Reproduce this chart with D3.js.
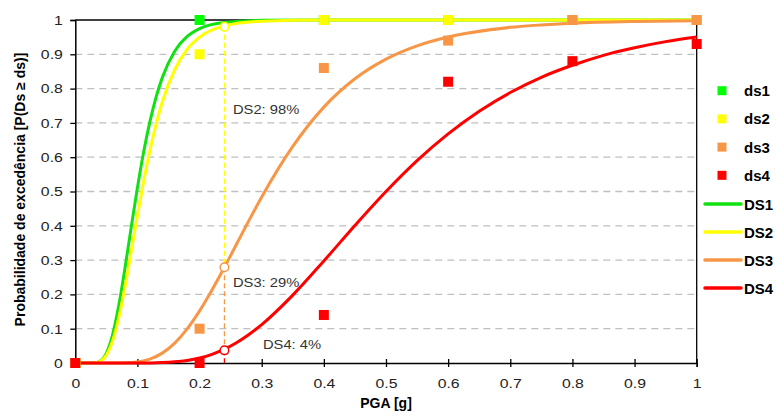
<!DOCTYPE html>
<html><head><meta charset="utf-8">
<script src="https://cdn.jsdelivr.net/npm/d3@7"></script>
<style>body{margin:0;background:#fff}svg{display:block;font-family:"Liberation Sans",Arial,sans-serif}</style>
</head><body><svg id="c" width="777" height="416"></svg>
<script>
// observed points
const pga = [0, 0.2, 0.4, 0.6, 0.8, 1];
const ds1 = [0, 1, 1, 1, 1, 1];
const ds2 = [0, 0.9, 1, 1, 1, 1];
const ds3 = [0, 0.1, 0.86, 0.94, 1, 1];
const ds4 = [0, 0, 0.14, 0.82, 0.88, 0.93];
// fitted curves
const DS1x = [0,0.03,0.04,0.05,0.06,0.07,0.08,0.09,0.10,0.11,0.12,0.13,0.14,0.16,0.18,0.20,0.24,0.30,0.40,0.60,0.80,1.0];
const DS1y = [0,0.0005,0.006,0.029,0.082,0.168,0.277,0.396,0.511,0.615,0.703,0.775,0.832,0.909,0.952,0.975,0.993,0.999,1,1,1,1];
const DS2x = [0,0.03,0.04,0.05,0.06,0.07,0.08,0.09,0.10,0.11,0.12,0.13,0.14,0.16,0.18,0.20,0.24,0.30,0.40,0.60,0.80,1.0];
const DS2y = [0,0.0004,0.005,0.023,0.064,0.132,0.222,0.325,0.429,0.529,0.619,0.696,0.761,0.855,0.9145,0.950,0.983,0.9966,0.9997,1,1,1];
const DS3x = [0,0.06,0.08,0.10,0.12,0.14,0.16,0.18,0.20,0.22,0.24,0.26,0.28,0.30,0.35,0.40,0.45,0.50,0.55,0.60,0.70,0.80,0.90,1.0];
const DS3y = [0,0,0.0006,0.0033,0.0114,0.0288,0.0578,0.0993,0.152,0.2128,0.279,0.3486,0.4174,0.484,0.6314,0.746,0.8287,0.886,0.9248,0.9505,0.9786,0.9907,0.9959,0.998];
const DS4x = [0,0.08,0.10,0.12,0.14,0.16,0.18,0.20,0.22,0.24,0.26,0.28,0.30,0.35,0.40,0.45,0.50,0.55,0.60,0.65,0.70,0.75,0.80,0.85,0.90,0.95,1.0];
const DS4y = [0,0,0.0001,0.0003,0.0012,0.0034,0.0075,0.0146,0.0253,0.0402,0.0597,0.0838,0.112,0.198,0.2976,0.401,0.5,0.590,0.668,0.734,0.7885,0.833,0.868,0.897,0.919,0.937,0.9505];
// marked reading at PGA = 0.24
const markX = 0.24;
const markY = [0.98, 0.279, 0.037];
const markLabels = ["DS2: 98%", "DS3: 29%", "DS4: 4%"];
const xTicks = [0,0.1,0.2,0.3,0.4,0.5,0.6,0.7,0.8,0.9,1];
const yTicks = [0,0.1,0.2,0.3,0.4,0.5,0.6,0.7,0.8,0.9,1];
const pointNames = ["ds1","ds2","ds3","ds4"];
const curveNames = ["DS1","DS2","DS3","DS4"];

const ptColors = ["#00ff00","#ffff00","#f79646","#ff0000"];
const lnColors = ["#11e011","#ffff00","#f79646","#ff0000"];

const SX = 1.17; // horizontal stretch of the regular text
const svg = d3.select("#c");
const L = 75.3, R = 696.7, T = 20, B = 363;
const x = d3.scaleLinear().domain([0,1]).range([L,R]);
const y = d3.scaleLinear().domain([0,1]).range([B,T]);

// gridlines
svg.append("g").selectAll("line").data(yTicks.filter(d=>d>0&&d<1)).join("line")
  .attr("x1",L).attr("x2",R).attr("y1",d=>y(d)).attr("y2",d=>y(d))
  .attr("stroke","#bfbfbf").attr("stroke-width",1.3).attr("stroke-dasharray","7,5");

// box top/right
svg.append("line").attr("x1",L).attr("x2",R).attr("y1",T).attr("y2",T).attr("stroke","#000").attr("stroke-width",1.3);
svg.append("line").attr("x1",R).attr("x2",R).attr("y1",T).attr("y2",B).attr("stroke","#000").attr("stroke-width",1.3);

// axes
const xa = svg.append("g").attr("transform",`translate(0,${B})`)
  .call(d3.axisBottom(x).tickValues(xTicks).tickFormat(d3.format("")).tickSize(4).tickPadding(8));
xa.selectAll(".tick line").attr("y1",-4).attr("y2",4);
const ya = svg.append("g").attr("transform",`translate(${L},0)`)
  .call(d3.axisLeft(y).tickValues(yTicks).tickFormat(d3.format("")).tickSize(5).tickPadding(7.5));
[xa,ya].forEach(a=>{
  a.select(".domain").attr("stroke","#000").attr("stroke-width",1.5);
  a.selectAll(".tick line").attr("stroke","#000").attr("stroke-width",1.3);
  a.selectAll(".tick text").attr("font-size",13.5).attr("fill","#222").attr("font-family","Liberation Sans, Arial, sans-serif");
});
xa.selectAll(".tick text").attr("dy","0.95em").attr("transform",`scale(${SX},1)`);
ya.selectAll(".tick text").attr("x",-12.5/SX).attr("transform",`scale(${SX},1)`);

// axis titles
svg.append("text").attr("x",(L+R)/2).attr("y",408).attr("text-anchor","middle")
  .attr("font-size",14).attr("font-weight","bold").text("PGA [g]");
svg.append("text").attr("transform",`translate(25,${(T+B)/2-2}) rotate(-90)`).attr("text-anchor","middle")
  .attr("font-size",14).attr("font-weight","bold").text("Probabilidade de excedência [P(Ds ≥ ds)]");

// vertical dashed guides
const guideCols = [lnColors[1], lnColors[2], lnColors[3]];
const guideSegs = [[markY[0],markY[1]],[markY[1],markY[2]],[markY[2],0]];
svg.append("g").selectAll("line").data(guideSegs).join("line")
  .attr("x1",x(markX)).attr("x2",x(markX)).attr("y1",d=>y(d[0])).attr("y2",d=>y(d[1]))
  .attr("stroke",(d,i)=>guideCols[i]).attr("stroke-width",1.3).attr("stroke-dasharray","5,3");

// curves
const curves = [[DS1x,DS1y],[DS2x,DS2y],[DS3x,DS3y],[DS4x,DS4y]];
const line = d3.line().x(d=>x(d[0])).y(d=>y(d[1])).curve(d3.curveMonotoneX);
curves.forEach((c,i)=>{
  svg.append("path").datum(c[0].map((v,j)=>[v,c[1][j]])).attr("d",line)
    .attr("fill","none").attr("stroke",lnColors[i]).attr("stroke-width",3);
});

// points
const pts = [ds1,ds2,ds3,ds4];
pts.forEach((s,i)=>{
  svg.append("g").selectAll("rect").data(s.map((v,j)=>[pga[j],v])).join("rect")
    .attr("x",d=>x(d[0])-5).attr("y",d=>y(d[1])-5).attr("width",10).attr("height",10)
    .attr("fill",ptColors[i]);
});

// mark circles and labels
svg.append("g").selectAll("circle").data(markY).join("circle")
  .attr("cx",x(markX)).attr("cy",d=>y(d)).attr("r",4.3)
  .attr("fill","#fff").attr("stroke",(d,i)=>guideCols[i]).attr("stroke-width",1.5);
const labY = [0.726, 0.221, 0.04];
const labDx = [8.5, 8.5, 38.5];
svg.append("g").selectAll("text").data(markLabels).join("text")
  .attr("transform",(d,i)=>`translate(${x(markX)+labDx[i]},${y(labY[i])}) scale(${SX*0.97},1)`)
  .attr("font-size",13).attr("fill","#333").text(d=>d);

// legend
const lg = svg.append("g");
pointNames.forEach((n,i)=>{
  const cy = 90.7 + i*28.2;
  lg.append("rect").attr("x",717.5).attr("y",cy-4.5).attr("width",9).attr("height",9).attr("fill",ptColors[i]);
  lg.append("text").attr("x",744).attr("y",cy+5.5).attr("font-size",15).attr("font-weight","bold").text(n);
});
curveNames.forEach((n,i)=>{
  const cy = 204 + i*28;
  lg.append("line").attr("x1",705).attr("x2",741).attr("y1",cy).attr("y2",cy)
    .attr("stroke",lnColors[i]).attr("stroke-width",3.5).attr("stroke-linecap","round");
  lg.append("text").attr("x",744).attr("y",cy+5.5).attr("font-size",15).attr("font-weight","bold").text(n);
});
</script></body></html>
